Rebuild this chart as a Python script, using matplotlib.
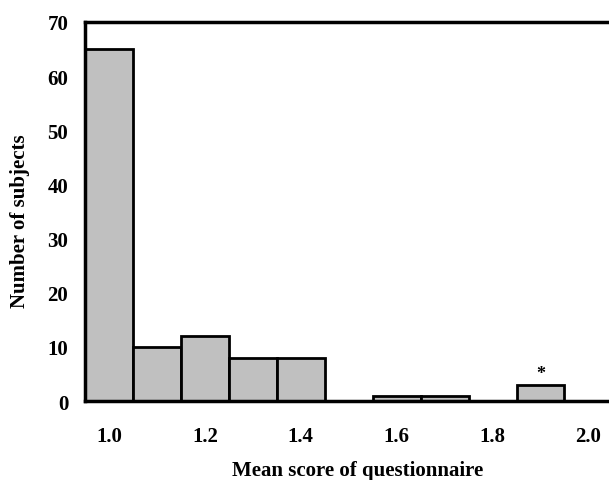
import matplotlib

matplotlib.use("Agg")
import matplotlib.pyplot as plt

# Histogram bins (centres) and counts
bin_centres = [1.0, 1.1, 1.2, 1.3, 1.4, 1.5, 1.6, 1.7, 1.8, 1.9]
counts = [65, 10, 12, 8, 8, 0, 1, 1, 0, 3]
x_ticks = [1.0, 1.2, 1.4, 1.6, 1.8, 2.0]
y_ticks = [0, 10, 20, 30, 40, 50, 60, 70]
marked_bin = 1.9

plt.rcParams["font.family"] = ["Liberation Serif", "DejaVu Serif"]
plt.rcParams["font.weight"] = "bold"

fig = plt.figure(figsize=(6.09, 4.81), dpi=100)
ax = fig.add_axes([0.1396, 0.1642, 0.866, 0.788])

ax.bar(
    bin_centres,
    counts,
    width=0.1,
    color="#c0c0c0",
    edgecolor="black",
    linewidth=2,
    zorder=2,
)

# significance marker above the 1.9 bin
idx = bin_centres.index(marked_bin)
ax.text(marked_bin, counts[idx] + 0.5, "*", ha="center", va="bottom",
        fontsize=13, fontweight="bold")

ax.set_xlim(0.95, 2.05)
ax.set_ylim(0, 70)
ax.set_xticks(x_ticks)
ax.set_xticklabels([f"{v:.1f}" for v in x_ticks])
ax.set_yticks(y_ticks)

for side in ("left", "bottom", "top"):
    ax.spines[side].set_linewidth(2.5)
ax.spines["right"].set_visible(False)

ax.tick_params(axis="x", length=0, pad=18, labelsize=15)
ax.tick_params(axis="y", direction="in", length=6, width=2, pad=12, labelsize=15)

ax.set_xlabel("Mean score of questionnaire", fontsize=15, fontweight="bold")
ax.set_ylabel("Number of subjects", fontsize=15, fontweight="bold")
ax.xaxis.set_label_coords(0.516, -0.155)
ax.yaxis.set_label_coords(-0.104, 0.478)

fig.savefig("out.png", dpi=100)
